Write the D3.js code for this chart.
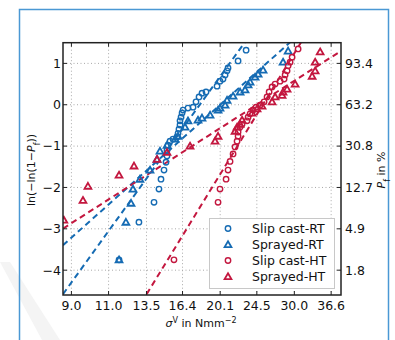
<!DOCTYPE html>
<html>
<head>
<meta charset="utf-8">
<script src="https://cdn.jsdelivr.net/npm/d3@7"></script>
<style>
  body { margin: 0; background: #fff; }
  text { font-family: "DejaVu Sans", sans-serif; fill: #111; }
</style>
</head>
<body>
<div id="graph"></div>
<script>
let w = 395;
let h = 340;

// plot box
let pLeft = 63, pRight = 341, pTop = 42.7, pBottom = 295;

// strength in N/mm^2 and ln(-ln(1-Pf))
let slipRT_s = [11.64, 12.96, 14.06, 14.44, 14.60, 14.84, 15.00, 15.08, 15.08, 15.16, 15.33, 15.58, 15.92, 16.01, 16.09, 16.18, 16.18, 16.27, 16.36, 16.45, 16.89, 17.36, 17.64, 17.93, 18.22, 18.62, 19.76, 20.08, 20.41, 20.64, 20.86, 20.97, 22.14, 23.12];
let slipRT_y = [-3.75, -2.84, -2.36, -2.04, -1.80, -1.58, -1.39, -1.24, -1.10, -0.98, -0.88, -0.83, -0.78, -0.69, -0.59, -0.49, -0.39, -0.30, -0.20, -0.13, -0.08, -0.06, 0.07, 0.19, 0.28, 0.31, 0.45, 0.57, 0.62, 0.72, 0.82, 0.89, 1.06, 1.32];

let sprayRT_s = [11.64, 12.08, 12.42, 12.55, 13.03, 13.76, 14.29, 14.52, 15.08, 15.75, 16.01, 16.62, 16.89, 17.83, 18.22, 19.03, 19.87, 20.08, 20.64, 20.86, 21.55, 22.38, 22.99, 23.37, 23.62, 24.27, 24.67, 25.34, 28.23, 29.01];
let sprayRT_y = [-3.75, -2.84, -2.38, -2.04, -1.80, -1.58, -1.32, -1.12, -0.98, -0.83, -0.76, -0.54, -0.39, -0.37, -0.32, -0.25, -0.13, -0.08, -0.01, 0.11, 0.21, 0.31, 0.36, 0.48, 0.55, 0.67, 0.74, 0.84, 1.03, 1.30];

let slipHT_s = [15.66, 19.87, 20.08, 20.75, 20.97, 21.20, 21.55, 21.78, 22.02, 22.14, 22.14, 22.38, 22.62, 23.24, 23.37, 23.62, 24.01, 24.40, 24.93, 25.48, 25.89, 26.18, 26.60, 27.04, 27.78, 28.39, 28.54, 28.85, 29.01, 29.32, 29.64, 30.62];
let slipHT_y = [-3.75, -2.36, -2.04, -1.80, -1.58, -1.37, -1.19, -1.02, -0.88, -0.76, -0.66, -0.54, -0.47, -0.39, -0.30, -0.22, -0.13, -0.06, -0.01, 0.07, 0.19, 0.31, 0.43, 0.50, 0.57, 0.62, 0.72, 0.82, 0.94, 1.03, 1.15, 1.35];

let sprayHT_s = [8.64, 9.58, 9.84, 11.64, 12.62, 14.29, 15.08, 17.08, 19.55, 19.87, 21.78, 22.02, 22.38, 22.62, 23.88, 24.53, 25.20, 26.60, 27.04, 28.08, 28.23, 28.85, 30.13, 33.03, 33.57, 33.57, 34.49];
let sprayHT_y = [-2.79, -2.31, -1.97, -1.70, -1.48, -1.32, -1.15, -1.00, -0.88, -0.76, -0.64, -0.54, -0.47, -0.37, -0.20, -0.10, -0.03, 0.07, 0.19, 0.23, 0.31, 0.38, 0.50, 0.69, 0.82, 1.03, 1.28];

// weibull fits: modulus m and characteristic strength s0
let names = ["Slip cast-RT", "Sprayed-RT", "Slip cast-HT", "Sprayed-HT"];
let fitM = [6.2, 4.0, 7.3, 2.86];
let fitS0 = [18.0, 20.1, 25.3, 24.5];

let xTicks = [9.0, 11.0, 13.5, 16.4, 20.1, 24.5, 30.0, 36.6];
let yTicks = [1, 0, -1, -2, -3, -4];
let pTicks = ["93.4", "63.2", "30.8", "12.7", "4.9", "1.8"];

let blue = "#156bb3";
let red = "#c3173f";
let colors = [blue, blue, red, red];
let shapes = ["circle", "triangle", "circle", "triangle"];

let series = [
  {s: slipRT_s, y: slipRT_y},
  {s: sprayRT_s, y: sprayRT_y},
  {s: slipHT_s, y: slipHT_y},
  {s: sprayHT_s, y: sprayHT_y}
];

let x = d3.scaleLog().domain([8.6, 38.6]).range([pLeft, pRight]);
let y = d3.scaleLinear().domain([-4.6, 1.5]).range([pBottom, pTop]);

let svg = d3.select("#graph")
              .append("svg")
                .attr("width", w)
                .attr("height", h);

// faint watermark in the corner
svg.append("path")
      .attr("d", "M0,262 L10,262 L60,340 L42,340 Z")
      .attr("fill", "#f4f4f4");

// blue page frame
svg.append("rect")
      .attr("x", 19.5)
      .attr("y", 9.5)
      .attr("width", 369)
      .attr("height", 360)
      .attr("fill", "none")
      .attr("stroke", "#4a98d4")
      .attr("stroke-width", 1.5);

svg.append("clipPath").attr("id", "clip")
    .append("rect")
      .attr("x", pLeft).attr("y", pTop)
      .attr("width", pRight - pLeft).attr("height", pBottom - pTop);

// grid
let grid = svg.append("g").attr("stroke", "#a8a8a8").attr("stroke-dasharray", "1,2.5").attr("stroke-width", 1);
grid.selectAll("vl").data(xTicks).enter()
      .append("line")
        .attr("x1", d => x(d)).attr("x2", d => x(d))
        .attr("y1", pTop).attr("y2", pBottom);
grid.selectAll("hl").data(yTicks).enter()
      .append("line")
        .attr("x1", pLeft).attr("x2", pRight)
        .attr("y1", d => y(d)).attr("y2", d => y(d));

let plot = svg.append("g").attr("clip-path", "url(#clip)");

// fitted lines
let dom = x.domain();
names.forEach(function(n, i){
  let pts = dom.map(s => [x(s), y(fitM[i] * (Math.log(s) - Math.log(fitS0[i])))]);
  plot.append("path")
        .attr("d", d3.line()(pts))
        .attr("fill", "none")
        .attr("stroke", colors[i])
        .attr("stroke-width", 2)
        .attr("stroke-dasharray", "6,4");
});

let tri = d3.symbol().type(d3.symbolTriangle).size(20);

// markers
series.forEach(function(ser, i){
  let pts = ser.s.map((s, k) => [s, ser.y[k]]);
  if (shapes[i] == "circle") {
    plot.selectAll("c" + i).data(pts).enter()
          .append("circle")
            .attr("cx", d => x(d[0]))
            .attr("cy", d => y(d[1]))
            .attr("r", 2.7)
            .attr("fill", "none")
            .attr("stroke", colors[i])
            .attr("stroke-width", 1.4);
  } else {
    plot.selectAll("t" + i).data(pts).enter()
          .append("path")
            .attr("d", tri)
            .attr("transform", d => "translate(" + x(d[0]) + "," + (y(d[1]) + 0.6) + ")")
            .attr("fill", "none")
            .attr("stroke", colors[i])
            .attr("stroke-width", 1.8);
  }
});

// frame and inward ticks
svg.append("rect")
      .attr("x", pLeft).attr("y", pTop)
      .attr("width", pRight - pLeft).attr("height", pBottom - pTop)
      .attr("fill", "none")
      .attr("stroke", "#222")
      .attr("stroke-width", 1.5);

let ticks = svg.append("g").attr("stroke", "#222").attr("stroke-width", 1);
xTicks.forEach(function(t){
  ticks.append("line").attr("x1", x(t)).attr("x2", x(t)).attr("y1", pBottom).attr("y2", pBottom - 4);
  ticks.append("line").attr("x1", x(t)).attr("x2", x(t)).attr("y1", pTop).attr("y2", pTop + 4);
});
yTicks.forEach(function(t){
  ticks.append("line").attr("x1", pLeft).attr("x2", pLeft + 4).attr("y1", y(t)).attr("y2", y(t));
  ticks.append("line").attr("x1", pRight).attr("x2", pRight - 4).attr("y1", y(t)).attr("y2", y(t));
});

// tick labels
svg.selectAll("xl").data(xTicks).enter()
      .append("text")
        .attr("x", d => x(d))
        .attr("y", 310)
        .attr("text-anchor", "middle")
        .attr("font-size", 12.5)
        .text(d => d.toFixed(1));

svg.selectAll("yl").data(yTicks).enter()
      .append("text")
        .attr("x", 61)
        .attr("y", d => y(d))
        .attr("dy", "0.35em")
        .attr("text-anchor", "end")
        .attr("font-size", 12.5)
        .text(d => d < 0 ? "\u2212" + Math.abs(d) : d);

svg.selectAll("pl").data(pTicks).enter()
      .append("text")
        .attr("x", 345)
        .attr("y", (d, i) => y(yTicks[i]))
        .attr("dy", "0.35em")
        .attr("font-size", 12.5)
        .text(d => d);

// axis titles
let xt = svg.append("text")
      .attr("x", 201)
      .attr("y", 327)
      .attr("text-anchor", "middle")
      .attr("font-size", 11);
xt.append("tspan").attr("font-style", "italic").text("\u03c3");
xt.append("tspan").attr("baseline-shift", "super").attr("font-size", 8).text("V");
xt.append("tspan").text(" in Nmm");
xt.append("tspan").attr("baseline-shift", "super").attr("font-size", 8).text("\u22122");

let yt = svg.append("text")
      .attr("transform", "translate(35,170) rotate(-90)")
      .attr("text-anchor", "middle")
      .attr("font-size", 11);
yt.append("tspan").text("ln(\u2212ln(1\u2212");
yt.append("tspan").attr("font-style", "italic").text("P");
yt.append("tspan").attr("baseline-shift", "sub").attr("font-size", 8).text("f");
yt.append("tspan").attr("baseline-shift", "0").text("))");

let rt = svg.append("text")
      .attr("transform", "translate(385,170) rotate(-90)")
      .attr("text-anchor", "middle")
      .attr("font-size", 11);
rt.append("tspan").attr("font-style", "italic").text("P");
rt.append("tspan").attr("baseline-shift", "sub").attr("font-size", 8).text("f");
rt.append("tspan").attr("baseline-shift", "0").text(" in %");

// legend
let lg = svg.append("g");
lg.append("rect")
    .attr("x", 209.5).attr("y", 218.5)
    .attr("width", 125).attr("height", 70)
    .attr("fill", "#fff")
    .attr("stroke", "#c8c8c8")
    .attr("stroke-width", 1);

names.forEach(function(n, i){
  let ly = 228.5 + i * 16;
  if (shapes[i] == "circle") {
    lg.append("circle")
        .attr("cx", 228).attr("cy", ly).attr("r", 2.7)
        .attr("fill", "none").attr("stroke", colors[i]).attr("stroke-width", 1.4);
  } else {
    lg.append("path")
        .attr("d", tri)
        .attr("transform", "translate(228," + (ly + 0.6) + ")")
        .attr("fill", "none").attr("stroke", colors[i]).attr("stroke-width", 1.8);
  }
  lg.append("text")
      .attr("x", 252)
      .attr("y", ly)
      .attr("dy", "0.36em")
      .attr("font-size", 12.5)
      .text(n);
});
</script>
</body>
</html>
